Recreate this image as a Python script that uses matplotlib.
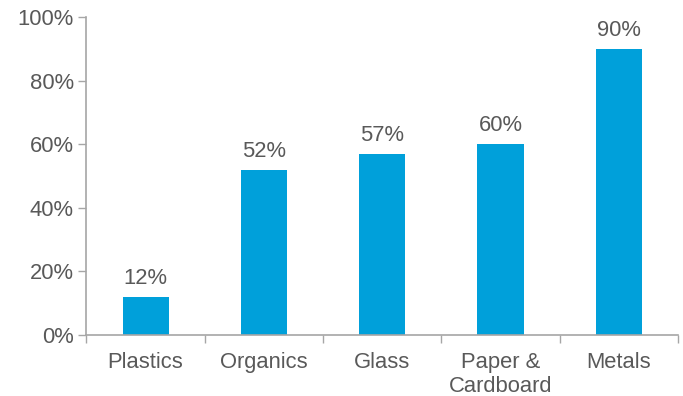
import matplotlib.pyplot as plt
from matplotlib.ticker import FixedLocator, FuncFormatter

categories = ["Plastics", "Organics", "Glass", "Paper &\nCardboard", "Metals"]
values = [12, 52, 57, 60, 90]
y_ticks = [0, 20, 40, 60, 80, 100]

plt.rcParams['font.family'] = ['Liberation Sans', 'DejaVu Sans']
text_color = '#595959'
axis_color = '#A6A6A6'
bar_color = '#00A0DA'
fs = 15.8

fig = plt.figure(figsize=(6.83, 3.96), dpi=100)
ax = fig.add_axes([0.1266, 0.154, 0.866, 0.802])

x = list(range(len(categories)))
bars = ax.bar(x, values, width=0.39, color=bar_color, zorder=2)

for xi, v in zip(x, values):
    ax.annotate(f"{v}%", (xi, v), xytext=(0, 6), textcoords='offset points',
                ha='center', va='bottom', fontsize=fs, color=text_color)

ax.set_xlim(-0.5, len(categories) - 0.5)
ax.set_ylim(0, 100)
ax.set_yticks(y_ticks)
ax.yaxis.set_major_formatter(FuncFormatter(lambda v, p: f"{int(v)}%"))

# category labels centred, tick marks at category boundaries
ax.set_xticks(x)
ax.set_xticklabels(categories, fontsize=fs, color=text_color, linespacing=1.2)
ax.tick_params(axis='x', which='major', length=0, pad=12)
ax.xaxis.set_minor_locator(FixedLocator([i - 0.5 for i in range(len(categories) + 1)]))
ax.tick_params(axis='x', which='minor', length=6, width=1, color=axis_color, direction='out')

ax.tick_params(axis='y', length=6, width=1, color=axis_color, labelsize=fs,
               labelcolor=text_color, pad=3)

for side in ('top', 'right'):
    ax.spines[side].set_visible(False)
for side in ('left', 'bottom'):
    ax.spines[side].set_color(axis_color)
    ax.spines[side].set_linewidth(1.2)

fig.savefig('out.png', dpi=100)
